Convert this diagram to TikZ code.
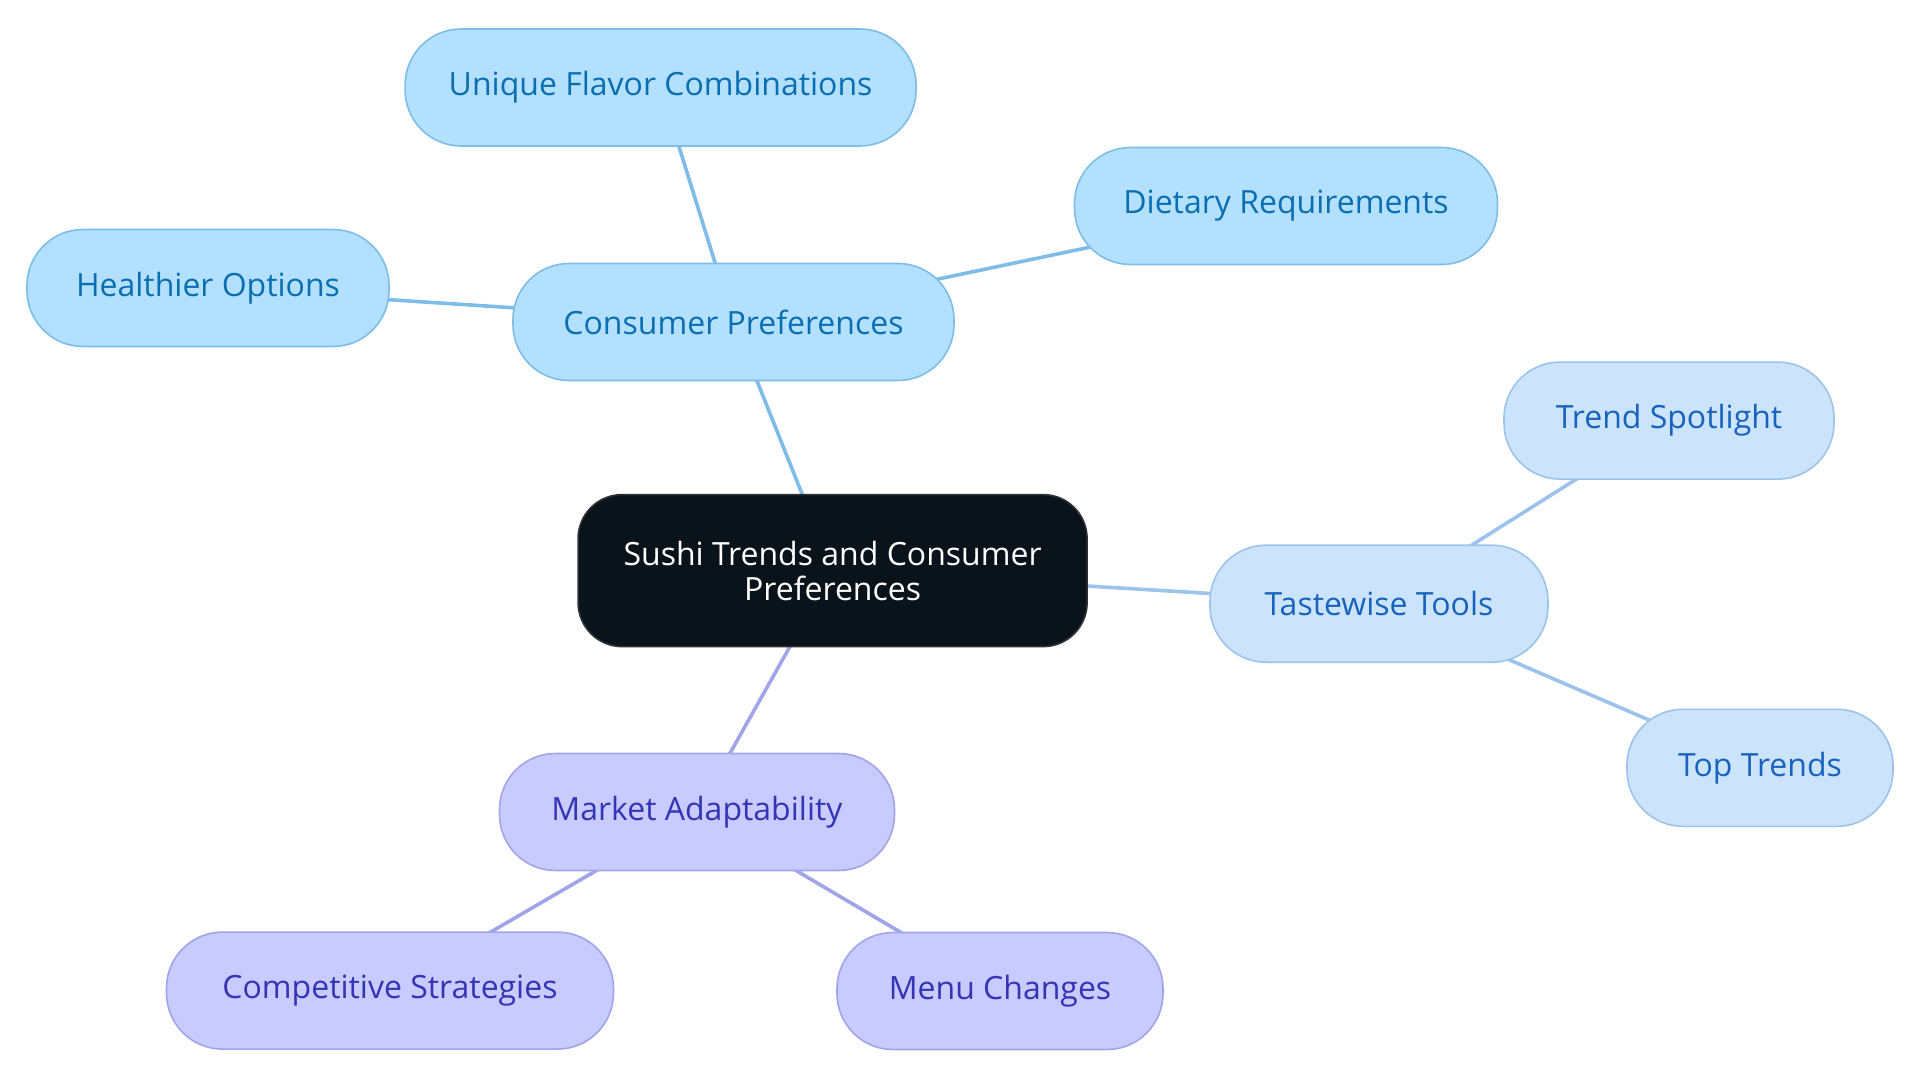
\documentclass[tikz,border=0pt]{standalone}
\usepackage{fontspec}
\setmainfont{Open Sans}
\usetikzlibrary{backgrounds}

\definecolor{rootfill}{HTML}{0B131A}
\definecolor{rootline}{HTML}{2C3238}
\definecolor{consfill}{HTML}{B3E0FF}
\definecolor{consline}{HTML}{7DBDE8}
\definecolor{constext}{HTML}{0A6FB0}
\definecolor{tastefill}{HTML}{CCE4FB}
\definecolor{tasteline}{HTML}{9CC3EC}
\definecolor{tastetext}{HTML}{1763BD}
\definecolor{marketfill}{HTML}{C8CBFF}
\definecolor{marketline}{HTML}{A1A4E8}
\definecolor{markettext}{HTML}{3434B4}

\tikzset{
  pill/.style={rectangle, rounded corners=56pt, draw, line width=1.6pt,
    minimum height=117pt, inner sep=0pt, align=center,
    font=\fontsize{32}{35}\selectfont},
  rootbox/.style={pill, rounded corners=44pt, minimum height=152pt,
    fill=rootfill, draw=rootline, text=white},
  consbox/.style={pill, fill=consfill, draw=consline, text=constext},
  tastebox/.style={pill, fill=tastefill, draw=tasteline, text=tastetext},
  marketbox/.style={pill, fill=marketfill, draw=marketline, text=markettext},
  link/.style={line width=3.6pt}
}

\begin{document}
\begin{tikzpicture}[x=1pt,y=1pt]
        \useasboundingbox (0,0) rectangle (1920,-1083);
        %% Centre
        \node[rootbox, minimum width=509pt] (root) at (832.6,-570.6) {Sushi Trends and Consumer\\Preferences};
        %% Consumer branch
        \node[consbox, minimum width=441pt] (cons) at (733.5,-322) {Consumer Preferences};
        \node[consbox, minimum width=511pt] (flavor) at (660.6,-87.5) {Unique Flavor Combinations};
        \node[consbox, minimum width=423pt] (diet) at (1286,-206) {Dietary Requirements};
        \node[consbox, minimum width=362pt] (health) at (208,-288) {Healthier Options};
        %% Tastewise branch
        \node[tastebox, minimum width=338pt] (tools) at (1379,-603.7) {Tastewise Tools};
        \node[tastebox, minimum width=330pt] (spot) at (1669,-420.6) {Trend Spotlight};
        \node[tastebox, minimum width=266pt] (top) at (1760,-767.8) {Top Trends};
        %% Market branch
        \node[marketbox, minimum width=395pt] (market) at (697,-812) {Market Adaptability};
        \node[marketbox, minimum width=447pt] (comp) at (390,-990.6) {Competitive Strategies};
        \node[marketbox, minimum width=326pt] (menu) at (1000,-991) {Menu Changes};
        %% Links
        \begin{scope}[on background layer]
            \draw[link, consline] (root.center) -- (cons.center);
            \draw[link, consline] (cons.center) -- (flavor.center);
            \draw[link, consline] (cons.center) -- (diet.center);
            \draw[link, consline] (cons.center) -- (health.center);
            \draw[link, tasteline] (root.center) -- (tools.center);
            \draw[link, tasteline] (tools.center) -- (spot.center);
            \draw[link, tasteline] (tools.center) -- (top.center);
            \draw[link, marketline] (root.center) -- (market.center);
            \draw[link, marketline] (market.center) -- (comp.center);
            \draw[link, marketline] (market.center) -- (menu.center);
        \end{scope}
    \end{tikzpicture}
\end{document}
